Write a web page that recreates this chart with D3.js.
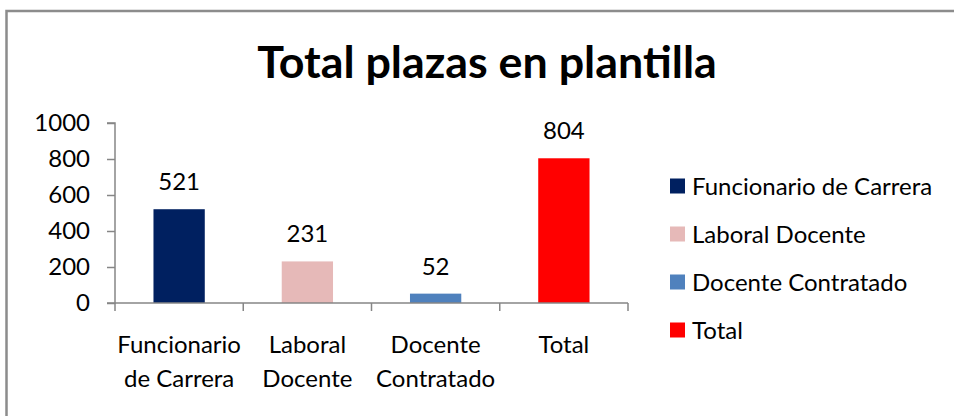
<!DOCTYPE html>
<html>
<head>
<meta charset="utf-8">
<script src="https://cdn.jsdelivr.net/npm/d3@7"></script>
<style>
  body { margin: 0; background: #fff; }
  svg { display: block; font-family: Lato, "Open Sans", sans-serif; }
</style>
</head>
<body>
<svg id="chart" width="954" height="416"></svg>
<script>
// data
const categories = ["Funcionario de Carrera", "Laboral Docente", "Docente Contratado", "Total"];
const axisLines = [["Funcionario", "de Carrera"], ["Laboral", "Docente"], ["Docente", "Contratado"], ["Total"]];
const values = [521, 231, 52, 804];
const colors = ["#002060", "#E6B9B8", "#4F81BD", "#FF0000"];
const yTicks = [0, 200, 400, 600, 800, 1000];

const svg = d3.select("#chart");

// outer frame (cut by the window on right/bottom)
svg.append("rect")
    .attr("x", 6.5).attr("y", 11)
    .attr("width", 1000).attr("height", 500)
    .attr("fill", "none")
    .attr("stroke", "#8c8c8c")
    .attr("stroke-width", 2.5);

svg.append("text")
    .attr("x", 487).attr("y", 78)
    .attr("text-anchor", "middle")
    .attr("font-size", 44.8)
    .attr("font-weight", "bold")
    .text("Total plazas en plantilla");

let x = d3.scaleBand()
    .domain(categories)
    .range([115, 628])
    .paddingInner(0.6)
    .paddingOuter(0.3);

let y = d3.scaleLinear().domain([0, 1000]).range([303, 123]);

// y axis
let yAxis = svg.append("g")
    .attr("transform", "translate(115,0)")
    .call(d3.axisLeft(y).tickValues(yTicks).tickFormat(d3.format("d")).tickSize(8).tickPadding(17));
yAxis.selectAll("text").attr("font-size", 24).attr("fill", "#000").attr("font-family", "Lato, sans-serif");
yAxis.selectAll("line, path").attr("stroke", "#868686").attr("stroke-width", 1.5);
yAxis.select(".domain").attr("d", "M-8,123H0V303H-8");

// bars
svg.selectAll(".bar").data(values).enter().append("rect")
    .attr("class", "bar")
    .attr("x", (d, i) => x(categories[i]))
    .attr("y", d => y(d))
    .attr("width", x.bandwidth())
    .attr("height", d => y(0) - y(d))
    .attr("fill", (d, i) => colors[i]);

// x axis with ticks between categories
let xg = svg.append("g");
xg.append("line")
    .attr("x1", 115).attr("x2", 628)
    .attr("y1", y(0)).attr("y2", y(0))
    .attr("stroke", "#868686").attr("stroke-width", 1.5);
let edges = categories.map((c, i) => 115 + i * x.step());
edges.push(628);
xg.selectAll(".tk").data(edges).enter().append("line")
    .attr("x1", d => d).attr("x2", d => d)
    .attr("y1", y(0)).attr("y2", y(0) + 8)
    .attr("stroke", "#868686").attr("stroke-width", 1.5);

// category labels
categories.forEach((c, i) => {
    let t = svg.append("text")
        .attr("x", x(c) + x.bandwidth() / 2)
        .attr("y", 353)
        .attr("text-anchor", "middle")
        .attr("font-size", 24);
    axisLines[i].forEach((ln, j) => {
        t.append("tspan").attr("x", x(c) + x.bandwidth() / 2).attr("dy", j === 0 ? 0 : 34).text(ln);
    });
});

// value labels
svg.selectAll(".val").data(values).enter().append("text")
    .attr("class", "val")
    .attr("x", (d, i) => x(categories[i]) + x.bandwidth() / 2)
    .attr("y", d => y(d) - 19)
    .attr("text-anchor", "middle")
    .attr("font-size", 24)
    .text(d => d);

// legend
let legend = svg.selectAll(".leg").data(categories).enter().append("g")
    .attr("transform", (d, i) => "translate(670," + (186 + i * 48) + ")");
legend.append("rect")
    .attr("x", 0).attr("y", -7.5)
    .attr("width", 15).attr("height", 15)
    .attr("fill", (d, i) => colors[i]);
legend.append("text")
    .attr("x", 22).attr("y", 8.5)
    .attr("font-size", 24)
    .text(d => d);
</script>
</body>
</html>
